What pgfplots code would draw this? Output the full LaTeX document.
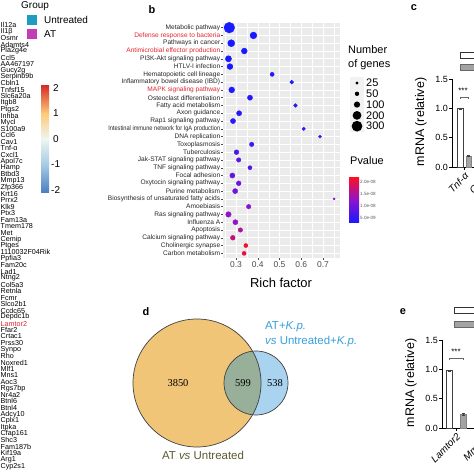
\documentclass[border=0pt]{standalone}
\usepackage{pgfplots}
\pgfplotsset{compat=1.18}
\usepackage{fontspec}
\setmainfont{Liberation Sans}
\newfontfamily\seriff{Liberation Serif}
\newcommand{\fs}[1]{\fontsize{#1}{#1}\selectfont}
\definecolor{redlab}{HTML}{E3262E}
\definecolor{panelbg}{HTML}{EBEBEB}
\definecolor{untr}{HTML}{1E9CC6}
\definecolor{atc}{HTML}{C23CB6}
\definecolor{vY}{HTML}{F1C578}
\definecolor{vB}{HTML}{AAD3F0}
\definecolor{vG}{HTML}{98AF99}
\definecolor{vtxt}{HTML}{3AA0DA}
\definecolor{vdark}{HTML}{5B5A30}
\definecolor{h2}{HTML}{D73027}
\definecolor{h15}{HTML}{F46D43}
\definecolor{h1}{HTML}{FDCB7A}
\definecolor{h05}{HTML}{FFFFC0}
\definecolor{h0}{HTML}{EEF6F0}
\definecolor{hm05}{HTML}{D0E5F0}
\definecolor{hm1}{HTML}{A6CBE4}
\definecolor{hm2}{HTML}{4A7DBF}
\definecolor{barg}{HTML}{A3A3A3}

\pgfplotstableread{
x y n p
0.269 30 300 3
0.380 29 120 3
0.278 28 130 3
0.338 27 90 3
0.265 26 100 3
0.272 25 90 3
0.466 24 44 3.5
0.556 23 37 3.5
0.280 22 90 3.5
0.364 21 69 4
0.573 20 37 4
0.314 19 69 4
0.286 18 69 4.5
0.611 17 31 4.5
0.686 16 25 5
0.372 15 52 6
0.302 14 60 7
0.312 13 52 8
0.364 12 44 8
0.283 11 69 9
0.312 10 60 10
0.296 9 69 10
0.751 8 11 11
0.358 7 52 12
0.265 6 79 13
0.297 5 69 13
0.320 4 52 15
0.285 3 60 17
0.345 2 44 21
0.337 1 44 20
}\richdata

\begin{document}
\begin{tikzpicture}[x=1bp,y=1bp]
\useasboundingbox (0,0) rectangle (474,474);
\fill[white] (0,0) rectangle (474,474);
\clip (0,0) rectangle (474,474);
\coordinate (Bpos) at (223,216);
\coordinate (Cpos) at (452,307);
\coordinate (Epos) at (442,46);

% ---------- left column: group legend, heat colour key, gene names
\node[anchor=west,font=\fs{10},inner sep=0] at (21,468) {Group};
\fill[untr] (27,449) rectangle (37,459);
\node[anchor=west,font=\fs{10},inner sep=0] at (44,454) {Untreated};
\fill[atc] (27,435) rectangle (37,445);
\node[anchor=west,font=\fs{10},inner sep=0] at (44,440) {AT};

\shade[top color=h2, middle color=h15, bottom color=h1] (41,360.3) rectangle (49,388);
\shade[top color=h1, middle color=h05, bottom color=h0] (41,334.8) rectangle (49,360.6);
\shade[top color=h0, middle color=hm05, bottom color=hm1] (41,309.3) rectangle (49,335.1);
\shade[top color=hm1, bottom color=hm2] (41,281) rectangle (49,309.6);
\foreach \v/\yy/\xx in {2/386/53,1/360.5/53,0/335/53,-1/309.5/51,-2/284/51}
  \node[anchor=west,font=\fs{10},inner sep=0] at (\xx,\yy) {\v};

\foreach \g [count=\i from 0] in {Il12a,Il1β,Osmr,Adamts4,Pla2g4e,Ccl5,AA467197,Gucy2g,Serpinb9b,Cbln1,Tnfsf15,Slc6a20a,Itgb8,Ptgs2,Inhba,Mycl,S100a9,Ccl6,Cav1,Tnf-α,Cxcl1,Apol7c,Hamp,Btbd3,Mmp13,Zfp366,Krt16,Prrx2,Klk9,Ptx3,Fam13a,Tmem178,Met,Cemip,Ptges,1110032F04Rik,Ppfia3,Fam20c,Lad1,Ntng2,Col5a3,Retnla,Fcmr,Slco2b1,Ccdc65,Depdc1b,{\textcolor{redlab}{Lamtor2}},Ffar2,Crtac1,Prss30,Synpo,Rho,Noxred1,Mlf1,Mns1,Aoc3,Rgs7bp,Nr4a2,Btnl6,Btnl4,Adcy10,Cplx1,Itpka,Cfap161,Shc3,Fam187b,Kif19a,Arg1,Cyp2s1}
  \node[anchor=west,font=\fs{7.2},inner sep=0] at (0.5,{449-\i*6.49}) {\g};

% ---------- panel b
\node[font=\bfseries\fs{11}] at (152,464) {b};
\begin{axis}[
  at={(Bpos)}, anchor=south west,
  scale only axis, width=117bp, height=235bp,
  xmin=0.24, xmax=0.778, ymin=0.4, ymax=30.6,
  axis background/.style={fill=panelbg},
  axis line style={draw=none},
  xtick={0.3,0.4,0.5,0.6,0.7},
  xticklabels={0.3,0.4,0.5,0.6,0.7},
  minor xtick={0.25,0.35,0.45,0.55,0.65,0.75},
  ytick={1,...,30},
  yticklabels={Carbon metabolism,Cholinergic synapse,Calcium signaling pathway,Apoptosis,Influenza A,Ras signaling pathway,Amoebiasis,Biosynthesis of unsaturated fatty acids,Purine metabolism,Oxytocin signaling pathway,Focal adhesion,TNF signaling pathway,Jak-STAT signaling pathway,Tuberculosis,Toxoplasmosis,DNA replication,{\scalebox{0.86}[1]{Intestinal immune network for IgA production}},Rap1 signaling pathway,Axon guidance,Fatty acid metabolism,Osteoclast differentiation,{\textcolor{redlab}{MAPK signaling pathway}},Inflammatory bowel disease (IBD),Hematopoietic cell lineage,HTLV-I infection,PI3K-Akt signaling pathway,{\textcolor{redlab}{Antimicrobial effector production}},Pathways in cancer,{\textcolor{redlab}{Defense response to bacteria}},Metabolic pathway},
  xtick pos=bottom, ytick pos=left,
  grid=both,
  major grid style={white, line width=0.6bp},
  minor grid style={white, line width=0.3bp},
  tick align=outside, major tick length=2bp, minor tick length=0pt,
  tick style={black!70, line width=0.4bp},
  xticklabel style={font=\fs{8.5}, text=black!70, inner sep=1bp},
  yticklabel style={font=\fs{6.6}, text=black!85, inner sep=0.6bp},
  point meta min=3, point meta max=22,
  colormap={bluered}{rgb255=(25,25,255) rgb255=(140,20,205) rgb255=(255,15,30)},
  colorbar,
  colorbar style={
    at={(1.077,0.345)}, anchor=north west,
    scale only axis, width=10bp, height=46bp,
    ytick={5,10,15,20},
    yticklabels={5.0e-09,1.0e-08,1.5e-08,2.0e-08},
    yticklabel style={font=\fs{4.6}, text=black!65, inner sep=1bp},
    major tick length=0pt, axis line style={draw=none},
  },
]
\addplot[scatter, only marks, mark=*,
  scatter/use mapped color={draw=mapped color, fill=mapped color},
  visualization depends on={\thisrow{n} \as \cnt},
  scatter/@pre marker code/.append style={/tikz/mark size={0.31*sqrt(\cnt)}},
  point meta=\thisrow{p}] table[x=x,y=y] {\richdata};
\end{axis}
\node[font=\fs{13}] at (281,191) {Rich factor};

% size legend
\node[anchor=west,font=\fs{11},inner sep=0] at (348,424) {Number};
\node[anchor=west,font=\fs{11},inner sep=0] at (348,409) {of genes};
\fill[black!5] (350,342) rectangle (364,397);
\foreach \n/\yy in {25/391,50/380.2,100/369.4,200/358.6,300/347.8}{
  \fill[black] (357,\yy) circle ({0.31*sqrt(\n)});
  \node[anchor=west,font=\fs{11},inner sep=0] at (366,\yy) {\n};
}
\node[anchor=west,font=\fs{11},inner sep=0] at (350,313) {Pvalue};

% ---------- panel c
\node[font=\bfseries\fs{11}] at (414,466) {c};
\draw[black!80, line width=0.6bp, fill=white] (460,416) rectangle (478,422);
\draw[black!60, line width=0.6bp, fill=barg] (460,404) rectangle (478,410);
\node[rotate=90,font=\fs{12.5}] at (421,352) {mRNA (relative)};
\begin{axis}[
  at={(Cpos)}, anchor=south west, scale only axis, width=44bp, height=88bp,
  xmin=0, xmax=44, ymin=0, ymax=1.5,
  axis x line*=bottom, axis y line*=left,
  axis line style={-, line width=0.7bp},
  x axis line style={-}, y axis line style={-},
  ytick={0,0.5,1,1.5}, yticklabels={0.0,0.5,1.0,1.5},
  xtick={12,34}, xticklabels={Tnf-α,Cxcl1},
  tick align=outside, major tick length=3bp, tick style={black, line width=0.7bp},
  yticklabel style={font=\fs{9}, inner sep=1bp},
  xticklabel style={font=\fs{10}\itshape, rotate=45, anchor=north east, inner sep=1bp},
  clip=false]
\addplot[ybar, bar width=6bp, bar shift=0pt, draw=black!75, fill=white, line width=0.6bp,
  error bars/.cd, y dir=both, y explicit,
  error bar style={black!75, line width=0.5bp},
  error mark options={rotate=90, mark size=1.5bp, black!75}]
  coordinates {(8,1.0) +- (0,0.01)};
\addplot[ybar, bar width=5bp, bar shift=0pt, draw=barg!80!black, fill=barg, line width=0.6bp,
  error bars/.cd, y dir=both, y explicit,
  error bar style={black!75, line width=0.5bp},
  error mark options={rotate=90, mark size=1.5bp, black!75}]
  coordinates {(16.5,0.19) +- (0,0.01)};
\end{axis}
\node[font=\fs{8}] at (463,383) {***};
\draw[black!60, line width=0.4bp] (460,375) -- (460,377) -- (468,377) -- (468,375);

% ---------- panel d (Venn)
\node[font=\bfseries\fs{11}] at (146,162) {d};
\fill[vY] (197,91) circle (64);
\fill[vB] (256,91) circle (32);
\begin{scope}
  \clip (197,91) circle (64);
  \fill[vG] (256,91) circle (32);
\end{scope}
\draw[black!75, line width=0.7bp] (197,91) circle (64);
\draw[black!75, line width=0.7bp] (256,91) circle (32);
\node[font=\seriff\fs{10.5}] at (178,91) {3850};
\node[font=\seriff\fs{10.5}] at (243,91) {599};
\node[font=\seriff\fs{10.5}] at (275,91) {538};
\node[anchor=west,font=\fs{11.5},text=vtxt,inner sep=0] at (265,147) {AT+\textit{K.p.}};
\node[anchor=west,font=\fs{11.5},text=vtxt,inner sep=0] at (265,132) {\textit{vs} Untreated+\textit{K.p.}};
\node[font=\fs{11.5},text=vdark] at (203,19) {AT \textit{vs} Untreated};

% ---------- panel e
\node[font=\bfseries\fs{11}] at (403,162) {e};
\draw[black!80, line width=0.6bp, fill=white] (454,161) rectangle (478,167);
\draw[black!60, line width=0.6bp, fill=barg] (454,147) rectangle (478,153);
\node[rotate=90,font=\fs{12.5}] at (411,91) {mRNA (relative)};
\begin{axis}[
  at={(Epos)}, anchor=south west, scale only axis, width=52bp, height=88bp,
  xmin=0, xmax=52, ymin=0, ymax=1.5,
  axis x line*=bottom, axis y line*=left,
  axis line style={-, line width=0.7bp},
  x axis line style={-}, y axis line style={-},
  ytick={0,0.5,1,1.5}, yticklabels={0.0,0.5,1.0,1.5},
  xtick={14,44}, xticklabels={Lamtor2,Mmp13},
  tick align=outside, major tick length=3bp, tick style={black, line width=0.7bp},
  yticklabel style={font=\fs{9}, inner sep=1bp},
  xticklabel style={font=\fs{10}\itshape, rotate=45, anchor=north east, inner sep=1bp},
  clip=false]
\addplot[ybar, bar width=6bp, bar shift=0pt, draw=black!75, fill=white, line width=0.6bp,
  error bars/.cd, y dir=both, y explicit,
  error bar style={black!75, line width=0.5bp},
  error mark options={rotate=90, mark size=1.5bp, black!75}]
  coordinates {(7,0.98) +- (0,0.01)};
\addplot[ybar, bar width=6bp, bar shift=0pt, draw=barg!80!black, fill=barg, line width=0.6bp,
  error bars/.cd, y dir=both, y explicit,
  error bar style={black!75, line width=0.5bp},
  error mark options={rotate=90, mark size=1.5bp, black!75}]
  coordinates {(21.5,0.23) +- (0,0.015)};
\end{axis}
\node[font=\fs{8}] at (456,122) {***};
\draw[black!60, line width=0.4bp] (449,114) -- (449,116) -- (463,116) -- (463,114);
\end{tikzpicture}
\end{document}
